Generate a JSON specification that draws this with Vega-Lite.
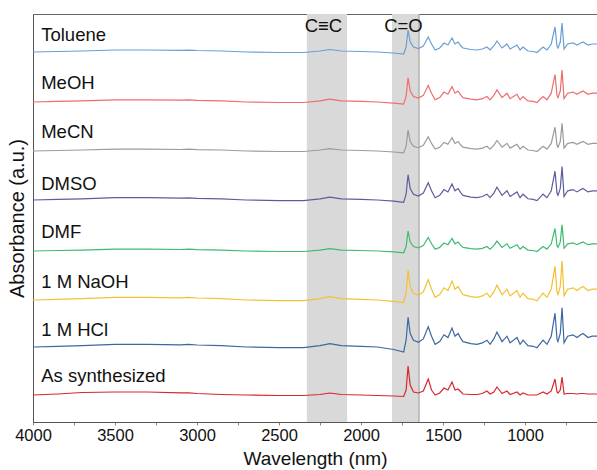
{
  "$schema": "https://vega.github.io/schema/vega-lite/v6.json",
  "width": 564,
  "height": 408,
  "autosize": {"type": "none"},
  "padding": {"left": 33, "top": 14, "right": 0, "bottom": 48},
  "config": {
    "font": "Liberation Sans",
    "view": {"stroke": "#666", "strokeWidth": 1},
    "axis": {"domainColor": "#555", "tickColor": "#888", "labelColor": "#111", "titleColor": "#111", "titleFontWeight": "normal", "grid": false}
  },
  "datasets": {
    "spectra": [
      {"x":4000,"Toluene":370,"MeOH":320,"MeCN":271,"DMSO":222,"DMF":171,"NaOH":122,"HCl":75,"AS":27},
      {"x":3850,"Toluene":370.5,"MeOH":320.6,"MeCN":271.5,"DMSO":222.6,"DMF":171.5,"NaOH":122.7,"HCl":75.7,"AS":28},
      {"x":3700,"Toluene":371,"MeOH":321.1,"MeCN":272,"DMSO":223.2,"DMF":171.9,"NaOH":123.4,"HCl":76.4,"AS":29.5},
      {"x":3500,"Toluene":372,"MeOH":322.2,"MeCN":272.9,"DMSO":224.3,"DMF":172.8,"NaOH":124.7,"HCl":77.7,"AS":30},
      {"x":3300,"Toluene":372,"MeOH":322.2,"MeCN":272.9,"DMSO":224.3,"DMF":172.8,"NaOH":124.7,"HCl":77.7,"AS":30},
      {"x":3100,"Toluene":371.6,"MeOH":321.8,"MeCN":272.5,"DMSO":223.8,"DMF":172.5,"NaOH":124.2,"HCl":77.2,"AS":29.2},
      {"x":3050,"Toluene":371.9,"MeOH":322.1,"MeCN":272.8,"DMSO":224.1,"DMF":172.8,"NaOH":124.6,"HCl":77.6,"AS":29.2},
      {"x":3000,"Toluene":371.5,"MeOH":321.7,"MeCN":272.4,"DMSO":223.7,"DMF":172.4,"NaOH":124,"HCl":77,"AS":28.5},
      {"x":2850,"Toluene":371,"MeOH":321.1,"MeCN":272,"DMSO":223.2,"DMF":171.9,"NaOH":123.4,"HCl":76.4,"AS":27.5},
      {"x":2700,"Toluene":370,"MeOH":320,"MeCN":271,"DMSO":222,"DMF":171,"NaOH":122,"HCl":75,"AS":27},
      {"x":2500,"Toluene":369.5,"MeOH":319.5,"MeCN":270.5,"DMSO":221.4,"DMF":170.5,"NaOH":121.3,"HCl":74.3,"AS":26.5},
      {"x":2350,"Toluene":369.5,"MeOH":319.5,"MeCN":270.5,"DMSO":221.4,"DMF":170.5,"NaOH":121.3,"HCl":74.3,"AS":26.5},
      {"x":2250,"Toluene":371,"MeOH":321.1,"MeCN":272,"DMSO":223.2,"DMF":171.9,"NaOH":123.4,"HCl":76.4,"AS":27.5},
      {"x":2190,"Toluene":372.5,"MeOH":322.8,"MeCN":273.4,"DMSO":224.9,"DMF":173.3,"NaOH":125.4,"HCl":78.4,"AS":29},
      {"x":2120,"Toluene":371,"MeOH":321.1,"MeCN":272,"DMSO":223.2,"DMF":171.9,"NaOH":123.4,"HCl":76.4,"AS":27.5},
      {"x":2000,"Toluene":370.5,"MeOH":320.6,"MeCN":271.5,"DMSO":222.6,"DMF":171.5,"NaOH":122.7,"HCl":75.7,"AS":27},
      {"x":1900,"Toluene":370,"MeOH":320,"MeCN":271,"DMSO":222,"DMF":171,"NaOH":122,"HCl":75,"AS":26.5},
      {"x":1800,"Toluene":369,"MeOH":318.9,"MeCN":270,"DMSO":220.8,"DMF":170.1,"NaOH":120.6,"HCl":72.5,"AS":26},
      {"x":1740,"Toluene":368,"MeOH":317.8,"MeCN":269.1,"DMSO":219.7,"DMF":169.2,"NaOH":119.3,"HCl":70,"AS":25.5},
      {"x":1725,"Toluene":375,"MeOH":325.5,"MeCN":275.8,"DMSO":227.8,"DMF":175.5,"NaOH":128.8,"HCl":81.8,"AS":32},
      {"x":1713,"Toluene":392,"MeOH":344.2,"MeCN":291.9,"DMSO":247.3,"DMF":190.8,"NaOH":151.7,"HCl":104.7,"AS":56},
      {"x":1700,"Toluene":380,"MeOH":331,"MeCN":280.5,"DMSO":233.5,"DMF":180,"NaOH":135.5,"HCl":88.5,"AS":37},
      {"x":1680,"Toluene":375,"MeOH":325.5,"MeCN":275.8,"DMSO":227.8,"DMF":175.5,"NaOH":128.8,"HCl":81.8,"AS":30},
      {"x":1650,"Toluene":373.5,"MeOH":323.9,"MeCN":274.3,"DMSO":226,"DMF":174.2,"NaOH":126.7,"HCl":79.7,"AS":29},
      {"x":1620,"Toluene":376,"MeOH":326.6,"MeCN":276.7,"DMSO":228.9,"DMF":176.4,"NaOH":130.1,"HCl":83.1,"AS":31},
      {"x":1590,"Toluene":385,"MeOH":336.5,"MeCN":285.3,"DMSO":239.3,"DMF":184.5,"NaOH":142.3,"HCl":95.3,"AS":43},
      {"x":1570,"Toluene":378,"MeOH":328.8,"MeCN":278.6,"DMSO":231.2,"DMF":178.2,"NaOH":132.8,"HCl":85.8,"AS":32},
      {"x":1548,"Toluene":372,"MeOH":322.2,"MeCN":272.9,"DMSO":224.3,"DMF":172.8,"NaOH":124.7,"HCl":77.7,"AS":27},
      {"x":1520,"Toluene":374,"MeOH":324.4,"MeCN":274.8,"DMSO":226.6,"DMF":174.6,"NaOH":127.4,"HCl":80.4,"AS":29},
      {"x":1494,"Toluene":379,"MeOH":329.9,"MeCN":279.6,"DMSO":232.4,"DMF":179.1,"NaOH":134.2,"HCl":87.2,"AS":34},
      {"x":1470,"Toluene":377,"MeOH":327.7,"MeCN":277.7,"DMSO":230.1,"DMF":177.3,"NaOH":131.5,"HCl":84.5,"AS":32},
      {"x":1445,"Toluene":384,"MeOH":335.4,"MeCN":284.3,"DMSO":238.1,"DMF":183.6,"NaOH":140.9,"HCl":93.9,"AS":40},
      {"x":1427,"Toluene":378,"MeOH":328.8,"MeCN":278.6,"DMSO":231.2,"DMF":178.2,"NaOH":132.8,"HCl":85.8,"AS":32},
      {"x":1408,"Toluene":380,"MeOH":331,"MeCN":280.5,"DMSO":233.5,"DMF":180,"NaOH":135.5,"HCl":88.5,"AS":33},
      {"x":1390,"Toluene":376,"MeOH":326.6,"MeCN":276.7,"DMSO":228.9,"DMF":176.4,"NaOH":130.1,"HCl":83.1,"AS":30},
      {"x":1378,"Toluene":374,"MeOH":324.4,"MeCN":274.8,"DMSO":226.6,"DMF":174.6,"NaOH":127.4,"HCl":80.4,"AS":28},
      {"x":1330,"Toluene":372.5,"MeOH":322.8,"MeCN":273.4,"DMSO":224.9,"DMF":173.3,"NaOH":125.4,"HCl":78.4,"AS":27.5},
      {"x":1293,"Toluene":372,"MeOH":322.2,"MeCN":272.9,"DMSO":224.3,"DMF":172.8,"NaOH":124.7,"HCl":77.7,"AS":27.5},
      {"x":1260,"Toluene":373,"MeOH":323.3,"MeCN":273.9,"DMSO":225.5,"DMF":173.7,"NaOH":126.1,"HCl":79.1,"AS":28.5},
      {"x":1232,"Toluene":375,"MeOH":325.5,"MeCN":275.8,"DMSO":227.8,"DMF":175.5,"NaOH":128.8,"HCl":81.8,"AS":31},
      {"x":1213,"Toluene":372,"MeOH":322.2,"MeCN":272.9,"DMSO":224.3,"DMF":172.8,"NaOH":124.7,"HCl":77.7,"AS":28},
      {"x":1190,"Toluene":376,"MeOH":326.6,"MeCN":276.7,"DMSO":228.9,"DMF":176.4,"NaOH":130.1,"HCl":83.1,"AS":30},
      {"x":1171,"Toluene":381,"MeOH":332.1,"MeCN":281.5,"DMSO":234.7,"DMF":180.9,"NaOH":136.9,"HCl":89.9,"AS":35},
      {"x":1140,"Toluene":374,"MeOH":324.4,"MeCN":274.8,"DMSO":226.6,"DMF":174.6,"NaOH":127.4,"HCl":80.4,"AS":28.5},
      {"x":1110,"Toluene":378,"MeOH":328.8,"MeCN":278.6,"DMSO":231.2,"DMF":178.2,"NaOH":132.8,"HCl":85.8,"AS":31},
      {"x":1091,"Toluene":373,"MeOH":323.3,"MeCN":273.9,"DMSO":225.5,"DMF":173.7,"NaOH":126.1,"HCl":79.1,"AS":27.5},
      {"x":1049,"Toluene":377,"MeOH":327.7,"MeCN":277.7,"DMSO":230.1,"DMF":177.3,"NaOH":131.5,"HCl":84.5,"AS":30},
      {"x":1030,"Toluene":372,"MeOH":322.2,"MeCN":272.9,"DMSO":224.3,"DMF":172.8,"NaOH":124.7,"HCl":77.7,"AS":27},
      {"x":1012,"Toluene":375,"MeOH":325.5,"MeCN":275.8,"DMSO":227.8,"DMF":175.5,"NaOH":128.8,"HCl":81.8,"AS":29},
      {"x":982,"Toluene":371,"MeOH":321.1,"MeCN":272,"DMSO":223.2,"DMF":171.9,"NaOH":123.4,"HCl":76.4,"AS":27},
      {"x":950,"Toluene":370.5,"MeOH":320.6,"MeCN":271.5,"DMSO":222.6,"DMF":171.5,"NaOH":122.7,"HCl":75.7,"AS":27},
      {"x":927,"Toluene":369.5,"MeOH":319.5,"MeCN":270.5,"DMSO":221.4,"DMF":170.5,"NaOH":121.3,"HCl":74.3,"AS":27},
      {"x":890,"Toluene":375,"MeOH":325.5,"MeCN":275.8,"DMSO":227.8,"DMF":175.5,"NaOH":128.8,"HCl":81.8,"AS":30},
      {"x":866,"Toluene":372,"MeOH":322.2,"MeCN":272.9,"DMSO":224.3,"DMF":172.8,"NaOH":124.7,"HCl":77.7,"AS":28},
      {"x":840,"Toluene":378,"MeOH":328.8,"MeCN":278.6,"DMSO":231.2,"DMF":178.2,"NaOH":132.8,"HCl":85.8,"AS":31},
      {"x":817,"Toluene":395,"MeOH":347.5,"MeCN":294.8,"DMSO":250.8,"DMF":193.5,"NaOH":155.8,"HCl":108.8,"AS":43},
      {"x":805,"Toluene":376,"MeOH":326.6,"MeCN":276.7,"DMSO":228.9,"DMF":176.4,"NaOH":130.1,"HCl":83.1,"AS":30},
      {"x":799,"Toluene":374,"MeOH":324.4,"MeCN":274.8,"DMSO":226.6,"DMF":174.6,"NaOH":127.4,"HCl":80.4,"AS":29},
      {"x":785,"Toluene":380,"MeOH":331,"MeCN":280.5,"DMSO":233.5,"DMF":180,"NaOH":135.5,"HCl":88.5,"AS":32},
      {"x":774,"Toluene":399,"MeOH":351.9,"MeCN":298.6,"DMSO":255.4,"DMF":197.1,"NaOH":161.2,"HCl":114.2,"AS":45},
      {"x":762,"Toluene":373,"MeOH":323.3,"MeCN":273.9,"DMSO":225.5,"DMF":173.7,"NaOH":126.1,"HCl":79.1,"AS":28},
      {"x":740,"Toluene":378,"MeOH":328.8,"MeCN":278.6,"DMSO":231.2,"DMF":178.2,"NaOH":132.8,"HCl":85.8,"AS":28.5},
      {"x":707,"Toluene":379,"MeOH":329.9,"MeCN":279.6,"DMSO":232.4,"DMF":179.1,"NaOH":134.2,"HCl":87.2,"AS":28.5},
      {"x":683,"Toluene":377,"MeOH":327.7,"MeCN":277.7,"DMSO":230.1,"DMF":177.3,"NaOH":131.5,"HCl":84.5,"AS":28},
      {"x":660,"Toluene":379,"MeOH":329.9,"MeCN":279.6,"DMSO":232.4,"DMF":179.1,"NaOH":134.2,"HCl":87.2,"AS":28.5},
      {"x":646,"Toluene":380,"MeOH":331,"MeCN":280.5,"DMSO":233.5,"DMF":180,"NaOH":135.5,"HCl":88.5,"AS":28.5},
      {"x":616,"Toluene":377,"MeOH":327.7,"MeCN":277.7,"DMSO":230.1,"DMF":177.3,"NaOH":131.5,"HCl":84.5,"AS":28},
      {"x":590,"Toluene":378,"MeOH":328.8,"MeCN":278.6,"DMSO":231.2,"DMF":178.2,"NaOH":132.8,"HCl":85.8,"AS":28},
      {"x":561,"Toluene":378,"MeOH":328.8,"MeCN":278.6,"DMSO":231.2,"DMF":178.2,"NaOH":132.8,"HCl":85.8,"AS":28}
    ],
    "bands": [
      {"band": "C≡C", "lo": 2330, "hi": 2085},
      {"band": "C=O", "lo": 1811, "hi": 1646}
    ],
    "bandLabels": [
      {"text": "C≡C", "x": 2229, "y": 396},
      {"text": "C=O", "x": 1741, "y": 396}
    ],
    "sampleLabels": [
      {"text": "Toluene", "x": 3950, "y": 387},
      {"text": "MeOH", "x": 3950, "y": 339},
      {"text": "MeCN", "x": 3950, "y": 290},
      {"text": "DMSO", "x": 3950, "y": 238},
      {"text": "DMF", "x": 3950, "y": 190},
      {"text": "1 M NaOH", "x": 3950, "y": 140},
      {"text": "1 M HCl", "x": 3950, "y": 92},
      {"text": "As synthesized", "x": 3950, "y": 46}
    ]
  },
  "layer": [
    {
      "data": {"name": "bands"},
      "mark": {"type": "rect", "color": "#d9d9d9"},
      "encoding": {
        "x": {"field": "lo", "type": "quantitative", "title": "Wavelength (nm)", "scale": {"domain": [561, 4000], "reverse": true, "nice": false, "zero": false}},
        "x2": {"field": "hi"}
      }
    },
    {
      "data": {"values": [{"edge": 1646}]},
      "mark": {"type": "rule", "color": "#999", "strokeWidth": 1},
      "encoding": {
        "x": {"field": "edge", "type": "quantitative", "title": "Wavelength (nm)"}
      }
    },
    {
      "data": {"name": "spectra"},
      "transform": [{"fold": ["Toluene", "MeOH", "MeCN", "DMSO", "DMF", "NaOH", "HCl", "AS"], "as": ["sample", "value"]}],
      "mark": {"type": "line", "strokeWidth": 1.2},
      "encoding": {
        "x": {
          "field": "x", "type": "quantitative", "title": "Wavelength (nm)",
          "scale": {"domain": [561, 4000], "reverse": true, "nice": false, "zero": false},
          "axis": {
            "title": "Wavelength (nm)",
            "titleFontSize": 19,
            "titlePadding": 6,
            "values": [4000, 3750, 3500, 3250, 3000, 2750, 2500, 2250, 2000, 1750, 1500, 1250, 1000, 750],
            "format": "d",
            "labelExpr": "datum.value % 500 === 0 && datum.value >= 1000 ? datum.label : ''",
            "labelFontSize": 16.5,
            "labelPadding": 2,
            "tickSize": 3,
            "labelFlush": false
          }
        },
        "y": {
          "field": "value", "type": "quantitative", "title": "Absorbance (a.u.)",
          "scale": {"domain": [0, 408], "nice": false, "zero": false},
          "axis": {"title": "Absorbance (a.u.)", "titleFontSize": 20, "labels": false, "ticks": false, "titlePadding": 6}
        },
        "color": {
          "field": "sample", "type": "nominal", "legend": null,
          "scale": {
            "domain": ["Toluene", "MeOH", "MeCN", "DMSO", "DMF", "NaOH", "HCl", "AS"],
            "range": ["#6a9fd4", "#ee6d6d", "#9b9b9b", "#5d5c9c", "#3fbb72", "#f2c232", "#3c679f", "#d8272d"]
          }
        }
      }
    },
    {
      "data": {"name": "sampleLabels"},
      "mark": {"type": "text", "align": "left", "baseline": "middle", "fontSize": 18.5, "color": "#111"},
      "encoding": {
        "x": {"field": "x", "type": "quantitative", "title": "Wavelength (nm)"},
        "y": {"field": "y", "type": "quantitative", "title": "Absorbance (a.u.)"},
        "text": {"field": "text"}
      }
    },
    {
      "data": {"name": "bandLabels"},
      "mark": {"type": "text", "align": "center", "baseline": "middle", "fontSize": 18.5, "color": "#111"},
      "encoding": {
        "x": {"field": "x", "type": "quantitative", "title": "Wavelength (nm)"},
        "y": {"field": "y", "type": "quantitative", "title": "Absorbance (a.u.)"},
        "text": {"field": "text"}
      }
    }
  ]
}
